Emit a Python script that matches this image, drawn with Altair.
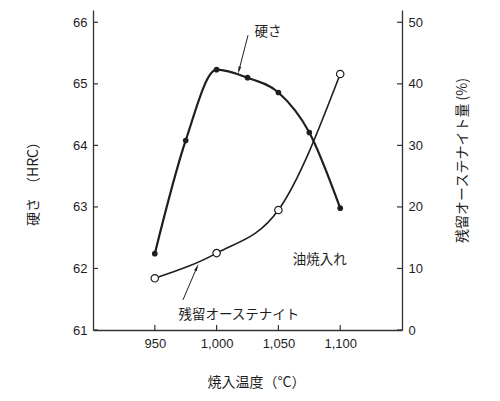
import altair as alt
import pandas as pd

# Data
hard_temp = [950, 975, 1000, 1025, 1050, 1075, 1100]
hard_hrc = [62.24, 64.08, 65.23, 65.10, 64.86, 64.21, 62.98]

aus_temp = [950, 1000, 1050, 1100]
aus_pct = [8.4, 12.5, 19.5, 41.6]

x_ticks = [950, 1000, 1050, 1100]
left_ticks = [61, 62, 63, 64, 65, 66]
right_ticks = [0, 10, 20, 30, 40, 50]

# annotations (data coords on the left axis)
ann_text = ["硬さ", "残留オーステナイト", "油焼入れ"]
ann_x = [1041.5, 1018, 1083.5]
ann_y = [65.84, 61.24, 62.14]

arrow_x1 = [1025.4, 972.8]
arrow_y1 = [65.79, 61.49]
arrow_x2 = [1018.1, 984.1]
arrow_y2 = [65.22, 62.02]
arrow_angle = [194, 23]

W, H = 309, 320
JP = "Noto Sans CJK JP"
LAT = "Liberation Sans"
INK = "#1e1e1e"

xs = alt.Scale(domain=[900, 1150], nice=False, zero=False)
yl = alt.Scale(domain=[61, 66.2], nice=False, zero=False)
yr = alt.Scale(domain=[0, 52], nice=False, zero=False)

hard = pd.DataFrame({"t": hard_temp, "v": hard_hrc})
aus = pd.DataFrame({"t": aus_temp, "v": aus_pct})
xt = pd.DataFrame({"t": x_ticks})
lt = pd.DataFrame({"v": left_ticks})
rt = pd.DataFrame({"v": right_ticks})
ann = pd.DataFrame({"label": ann_text, "t": ann_x, "v": ann_y})
arr = pd.DataFrame({"t": arrow_x1, "v": arrow_y1, "t2": arrow_x2, "v2": arrow_y2, "a": arrow_angle})

axis_common = dict(titleFont=JP, titleFontSize=14, titleFontWeight="normal", titleColor=INK,
                   labelFont=LAT, labelFontSize=13, labelColor=INK,
                   ticks=False, tickSize=0, grid=False, domainColor="#333", domainWidth=1.3)

x_enc = alt.X("t:Q", scale=xs, axis=alt.Axis(
    values=x_ticks, format=",d", title="焼入温度（°C）",
    titleX=163, titleY=52, titleAlign="center", titleBaseline="middle",
    labelPadding=7, **axis_common))

hard_line = alt.Chart(hard).mark_line(color=INK, strokeWidth=2.2, interpolate="monotone").encode(
    x=x_enc,
    y=alt.Y("v:Q", scale=yl, axis=alt.Axis(
        orient="left", values=left_ticks, title="硬さ　（HRC）",
        titleAngle=270, titleX=-60, titleY=170, titleAlign="center", titleBaseline="middle",
        labelPadding=6, **axis_common)))
hard_pts = alt.Chart(hard).mark_circle(color=INK, size=32, opacity=1).encode(
    x=alt.X("t:Q", scale=xs), y=alt.Y("v:Q", scale=yl, axis=None))

lt_rules = alt.Chart(lt).mark_rule(color="#333", strokeWidth=1.2).encode(
    x=alt.value(0), x2=alt.value(5), y=alt.Y("v:Q", scale=yl, axis=None))
xt_rules = alt.Chart(xt).mark_rule(color="#333", strokeWidth=1.2).encode(
    x=alt.X("t:Q", scale=xs), y=alt.value(H), y2=alt.value(H - 5))

ann_txt = alt.Chart(ann).mark_text(font=JP, fontSize=13.5, color=INK, align="center", baseline="middle").encode(
    x=alt.X("t:Q", scale=xs), y=alt.Y("v:Q", scale=yl, axis=None), text="label:N")
arr_lines = alt.Chart(arr).mark_rule(color=INK, strokeWidth=1).encode(
    x=alt.X("t:Q", scale=xs), y=alt.Y("v:Q", scale=yl, axis=None),
    x2="t2:Q", y2="v2:Q")
arr_heads = alt.Chart(arr).mark_point(shape="M0,-1L-0.35,1L0.35,1Z", filled=True, color=INK,
                                      size=60, opacity=1).encode(
    x=alt.X("t2:Q", scale=xs), y=alt.Y("v2:Q", scale=yl, axis=None), angle=alt.Angle("a:Q", scale=None))

aus_line = alt.Chart(aus).mark_line(color=INK, strokeWidth=1.6, interpolate="monotone").encode(
    x=alt.X("t:Q", scale=xs),
    y=alt.Y("v:Q", scale=yr, axis=alt.Axis(
        orient="right", values=right_ticks, title="残留オーステナイト量 (%)",
        titleAngle=270, titleX=60, titleY=150, titleAlign="center", titleBaseline="middle",
        labelPadding=6, **axis_common)))
aus_pts = alt.Chart(aus).mark_point(shape="circle", filled=True, fill="white", stroke=INK,
                                    strokeWidth=1.2, size=55, opacity=1).encode(
    x=alt.X("t:Q", scale=xs), y=alt.Y("v:Q", scale=yr, axis=None))
rt_rules = alt.Chart(rt).mark_rule(color="#333", strokeWidth=1.2).encode(
    x=alt.value(W), x2=alt.value(W - 5), y=alt.Y("v:Q", scale=yr, axis=None))

chart = alt.layer(
    hard_line, aus_line, hard_pts, lt_rules, xt_rules, rt_rules,
    ann_txt, arr_lines, arr_heads, aus_pts
).resolve_scale(y="independent").properties(
    width=W, height=H,
    autosize=alt.AutoSizeParams(type="none"),
    padding={"left": 85, "top": 2, "right": 90, "bottom": 70},
    background="white",
).configure_view(stroke=None)

chart.save("out.html", embed_options={"renderer": "svg", "actions": False})
